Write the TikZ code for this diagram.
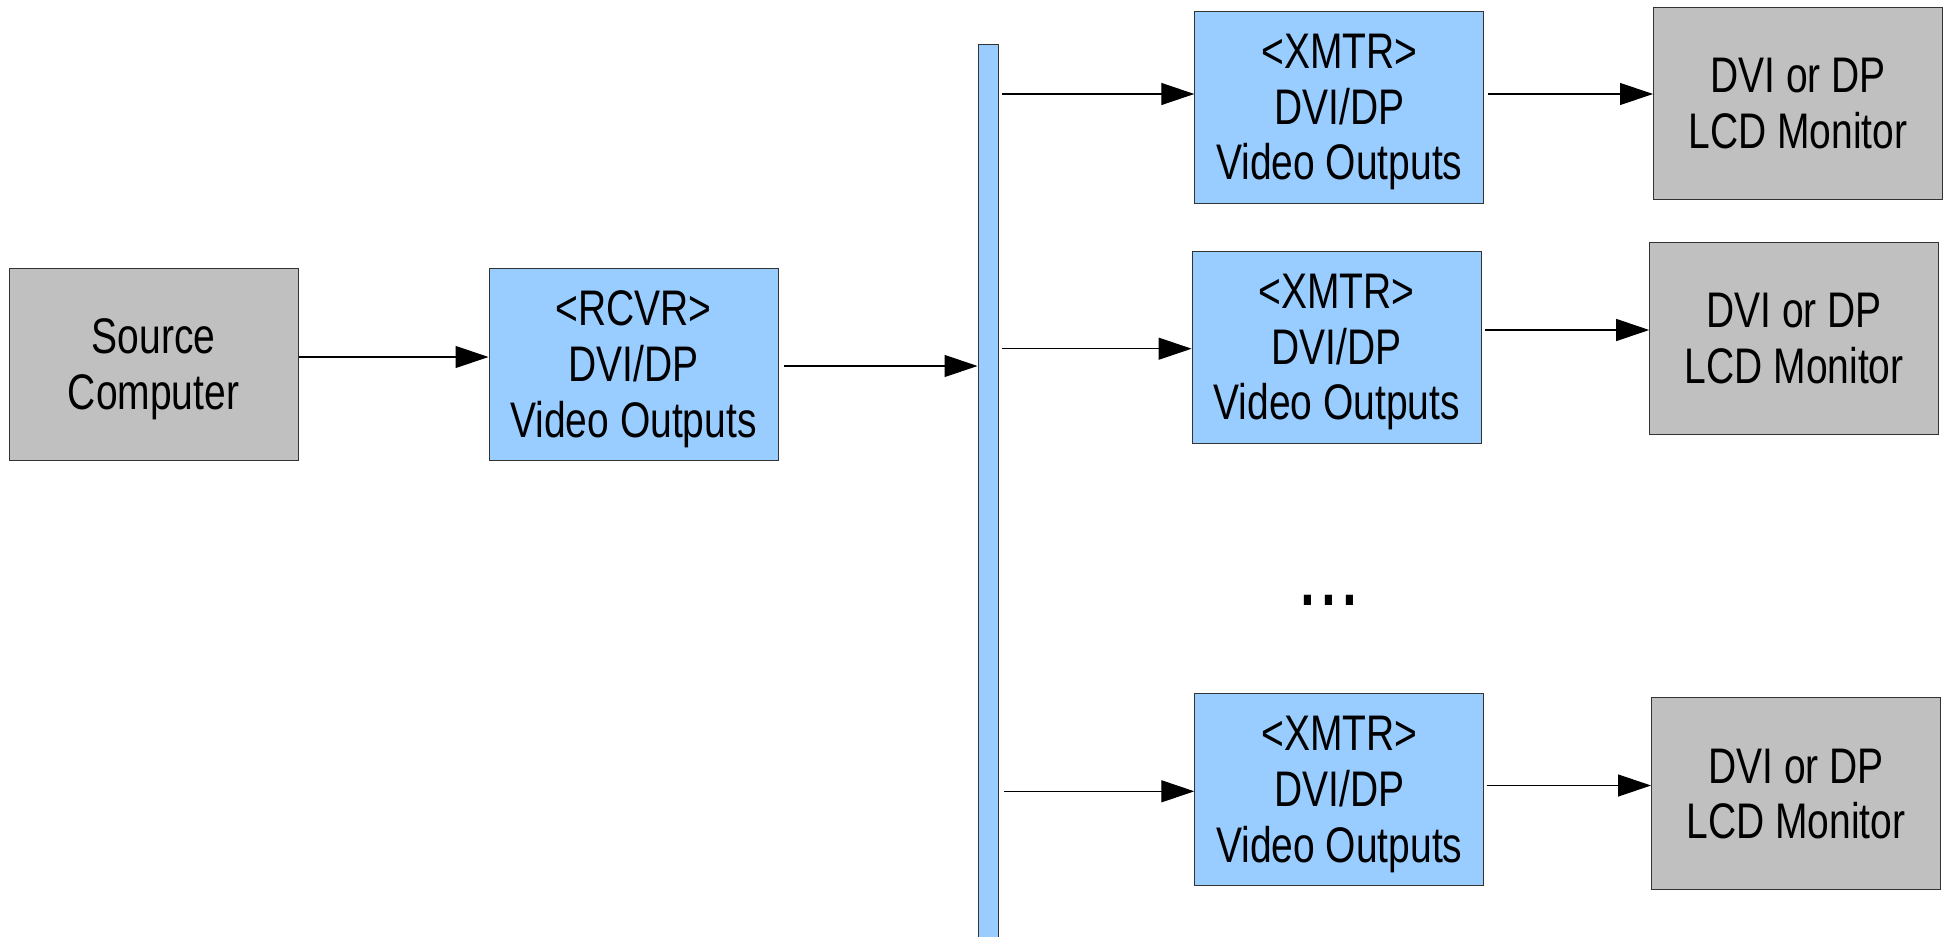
\documentclass[tikz,border=0pt]{standalone}
\usepackage{fontspec}
\setmainfont{Liberation Sans}[FakeStretch=0.78]
\usetikzlibrary{arrows.meta}
\definecolor{boxblue}{HTML}{99CCFF}
\definecolor{boxgray}{HTML}{C0C0C0}
\definecolor{edgecol}{HTML}{333333}
\begin{document}
\begin{tikzpicture}[x=0.5pt,y=-0.5pt,
  blk/.style={draw=edgecol, line width=0.5pt, minimum width=144.5pt, minimum height=96pt, inner sep=0pt, align=center, text depth=0pt, font=\fontsize{25}{27.8}\selectfont},
  bluebox/.style={blk, fill=boxblue},
  graybox/.style={blk, fill=boxgray},
  busbar/.style={draw=edgecol, fill=boxblue, line width=0.5pt, minimum width=10.3pt, minimum height=450pt, inner sep=0pt},
  arr/.style={draw=black, line width=0.6pt, -{Triangle[length=16.5pt,width=11pt]}}]
\useasboundingbox (0,0) rectangle (1945,937);
\node[graybox] (src) at (153.5,364) {Source\\Computer};
\node[bluebox] (rcvr) at (633.5,364) {<RCVR>\\DVI/DP\\Video Outputs};
\node[busbar] (bus) at (988.3,494.5) {};
\node[bluebox] (x1) at (1339.3,107) {<XMTR>\\DVI/DP\\Video Outputs};
\node[bluebox] (x2) at (1336.6,347) {<XMTR>\\DVI/DP\\Video Outputs};
\node[bluebox] (x3) at (1339.3,789.3) {<XMTR>\\DVI/DP\\Video Outputs};
\node[graybox] (m1) at (1798,103.3) {DVI or DP\\LCD Monitor};
\node[graybox] (m2) at (1794.2,338.5) {DVI or DP\\LCD Monitor};
\node[graybox] (m3) at (1796,793.7) {DVI or DP\\LCD Monitor};
\node[font=\fontsize{48}{48}\selectfont, anchor=base, inner sep=0pt] (dots) at (1329,605.7) {...};
\draw[arr] (src.east |- 0,357) -- (rcvr.west |- 0,357);
\draw[arr, shorten <=2.8pt] (rcvr.east |- 0,366) -- (bus.west |- 0,366);
\draw[arr, shorten <=1.2pt] (bus.east |- 0,94) -- (x1.west |- 0,94);
\draw[arr, shorten <=1.8pt] (x1.east |- 0,94) -- (m1.west |- 0,94);
\draw[arr, shorten <=1.2pt] (bus.east |- 0,348.7) -- (x2.west |- 0,348.7);
\draw[arr, shorten <=1.5pt] (x2.east |- 0,330) -- (m2.west |- 0,330);
\draw[arr, shorten <=2.2pt] (bus.east |- 0,791.3) -- (x3.west |- 0,791.3);
\draw[arr, shorten <=1.2pt] (x3.east |- 0,785.5) -- (m3.west |- 0,785.5);
\end{tikzpicture}
\end{document}
